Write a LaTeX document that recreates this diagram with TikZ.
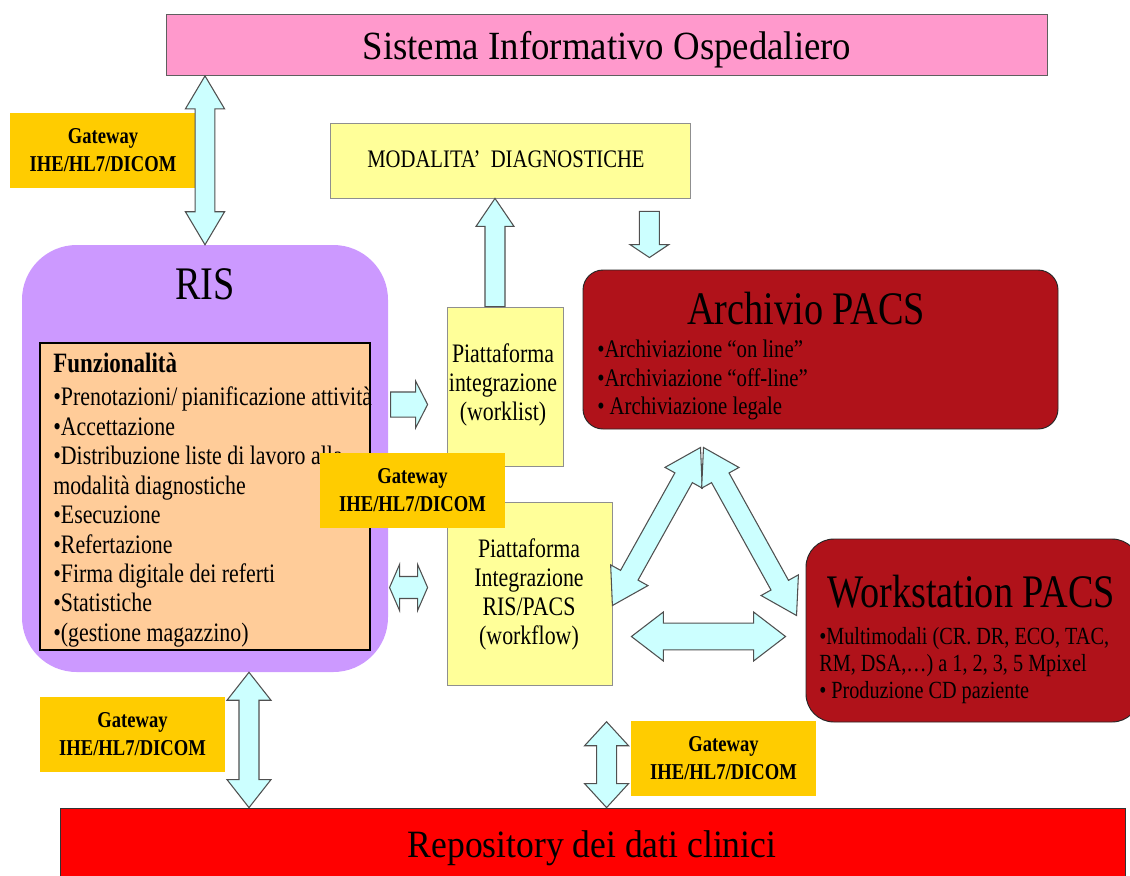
\documentclass[tikz,border=0pt]{standalone}
\usepackage{fontspec}
\setmainfont{Liberation Serif}
\newfontfamily\narrowserif[FakeStretch=0.82]{Liberation Serif}
\newfontfamily\titleserif[FakeStretch=0.92]{Liberation Serif}
\usetikzlibrary{calc}
\definecolor{sioPink}{RGB}{255,153,204}
\definecolor{gwOrange}{RGB}{255,204,0}
\definecolor{modaYellow}{RGB}{255,255,153}
\definecolor{risViolet}{RGB}{204,153,255}
\definecolor{funzPeach}{RGB}{255,204,153}
\definecolor{pacsRed}{RGB}{176,18,26}
\definecolor{repoRed}{RGB}{255,0,0}
\definecolor{arrowFill}{RGB}{204,255,255}
\definecolor{arrowLine}{RGB}{80,80,80}
\definecolor{boxLine}{RGB}{95,95,95}
\newcommand\twowayarrow[5]{%
\draw[fatarrow] (#1)
  -- ($(#1)!#5!(#2)!#4!90:(#2)$) -- ($(#1)!#5!(#2)!#3!90:(#2)$)
  -- ($(#2)!#5!(#1)!#3!-90:(#1)$) -- ($(#2)!#5!(#1)!#4!-90:(#1)$)
  -- (#2)
  -- ($(#2)!#5!(#1)!#4!90:(#1)$) -- ($(#2)!#5!(#1)!#3!90:(#1)$)
  -- ($(#1)!#5!(#2)!#3!-90:(#2)$) -- ($(#1)!#5!(#2)!#4!-90:(#2)$) -- cycle;}
\newcommand\onewayarrow[5]{%
\draw[fatarrow] ($(#1)!#3!90:(#2)$)
  -- ($(#2)!#5!(#1)!#3!-90:(#1)$) -- ($(#2)!#5!(#1)!#4!-90:(#1)$)
  -- (#2)
  -- ($(#2)!#5!(#1)!#4!90:(#1)$) -- ($(#2)!#5!(#1)!#3!90:(#1)$)
  -- ($(#1)!#3!-90:(#2)$) -- cycle;}
\begin{document}
\begin{tikzpicture}[x=0.75pt,y=-0.75pt,
  box/.style={draw=boxLine,line width=0.6pt,inner sep=0pt},
  gateway/.style={fill=gwOrange,minimum width=139pt,minimum height=56.25pt,inner sep=0pt,align=center,font=\narrowserif\bfseries\fontsize{17}{21}\selectfont},
  pacsbox/.style={draw=black!85,line width=0.7pt,fill=pacsRed,inner sep=0pt},
  fatarrow/.style={fill=arrowFill,draw=arrowLine,line width=0.8pt,line join=miter},
  bigtitle/.style={inner sep=0pt,font=\narrowserif\fontsize{35}{40}\selectfont},
  platetext/.style={inner sep=0pt,align=center,font=\narrowserif\fontsize{20}{21.75}\selectfont}]
\path[use as bounding box,clip] (0,0) rectangle (1130,875);
\node[box,fill=sioPink,minimum width=660.75pt,minimum height=45.75pt] (sio) at (606.5,45) {};
\node[anchor=base,inner sep=0pt,font=\titleserif\fontsize{30}{34}\selectfont] (siotext) at (607,59) {Sistema Informativo Ospedaliero};
\node[gateway] (gw1) at (103,150.5) {Gateway\\IHE/HL7/DICOM};
\node[box,draw=boxLine!70,fill=modaYellow,minimum width=270pt,minimum height=56.25pt] (moda) at (510,160.5) {};
\node[anchor=base,inner sep=0pt,font=\narrowserif\fontsize{18.9}{22}\selectfont] (modatext) at (506,167) {MODALITA’\ \ DIAGNOSTICHE};
\node[fill=risViolet,rounded corners=41pt,minimum width=274.5pt,minimum height=320.25pt] (ris) at (205,458.5) {};
\node[bigtitle] (ristitle) at (205,284) {RIS};
\node[draw=black,line width=0.8pt,fill=funzPeach,minimum width=247.5pt,minimum height=230.25pt] (funz) at (205,496.5) {};
\node[anchor=north west,inner sep=0pt,align=left,font=\narrowserif\fontsize{20}{22.1}\selectfont] (funztext) at (53,353)
  {{\bfseries\fontsize{21}{22.1}\selectfont Funzionalità}\\[2.6pt]
   •Prenotazioni/\,pianificazione attività\\
   •Accettazione\\
   •Distribuzione liste di lavoro alla\\
   modalità diagnostiche\\
   •Esecuzione\\
   •Refertazione\\
   •Firma digitale dei referti\\
   •Statistiche\\
   •(gestione magazzino)};
\node[box,draw=boxLine!70,fill=modaYellow,minimum width=87pt,minimum height=119.25pt] (wl) at (505,386.5) {};
\node[platetext] (wltext) at (503,385) {Piattaforma\\integrazione\\(worklist)};
\node[box,draw=boxLine!70,fill=modaYellow,minimum width=123.75pt,minimum height=137.25pt] (wf) at (529.5,593.5) {};
\node[platetext] (wftext) at (529,594) {Piattaforma\\Integrazione\\RIS/PACS\\(workflow)};
\node[gateway] (gw2) at (412.5,490) {Gateway\\IHE/HL7/DICOM};
\node[pacsbox,rounded corners=15pt,minimum width=356.25pt,minimum height=119.25pt] (arch) at (820.5,349.5) {};
\node[bigtitle] (archtitle) at (806,309) {Archivio PACS};
\node[anchor=north west,inner sep=0pt,align=left,font=\narrowserif\fontsize{19}{21.4}\selectfont] (archtext) at (597,340)
  {•Archiviazione “on line”\\•Archiviazione “off-line”\\•\ Archiviazione legale};
\node[pacsbox,rounded corners=21pt,minimum width=250.5pt,minimum height=137.25pt] (ws) at (973,630.5) {};
\node[bigtitle] (wstitle) at (971,592) {Workstation PACS};
\node[anchor=north west,inner sep=0pt,align=left,font=\narrowserif\fontsize{18.5}{20.25}\selectfont] (wstext) at (819,627)
  {•Multimodali (CR. DR, ECO, TAC,\\RM, DSA,…) a 1, 2, 3, 5 Mpixel\\•\ Produzione CD paziente};
\node[gateway] (gw3) at (132.5,734.5) {Gateway\\IHE/HL7/DICOM};
\node[gateway] (gw4) at (723.5,758.5) {Gateway\\IHE/HL7/DICOM};
\node[box,draw=black!80,fill=repoRed,minimum width=798.75pt,minimum height=65.25pt] (repo) at (592.5,851.5) {};
\node[anchor=base,inner sep=0pt,font=\titleserif\fontsize{29}{33}\selectfont] (repotext) at (592,857) {Repository dei dati clinici};
\coordinate (a1s) at (sio.south -| ris.north);
\twowayarrow{a1s}{ris.north}{7.35pt}{14.7pt}{24.75pt}
\coordinate (a2s) at ($(wl.north)+(-10,0)$);
\coordinate (a2e) at (moda.south -| a2s);
\onewayarrow{a2s}{a2e}{7.5pt}{14.25pt}{21pt}
\coordinate (a3s) at ($(moda.south east)+(-41,13)$);
\coordinate (a3e) at ($(arch.north -| a3s)+(0,-12)$);
\onewayarrow{a3s}{a3e}{7.5pt}{14.6pt}{9.75pt}
\coordinate (a4e) at ($(wl.west)+(-19,18)$);
\coordinate (a4s) at ($(funz.east |- a4e)+(20,0)$);
\onewayarrow{a4s}{a4e}{9.4pt}{17.6pt}{9pt}
\coordinate (a5e) at ($(wf.west)+(-19,-6)$);
\coordinate (a5s) at ($(funz.east |- a5e)+(19,0)$);
\twowayarrow{a5s}{a5e}{8.25pt}{17.25pt}{7.5pt}
\coordinate (a6s) at ($(wf.east)+(0,12)$);
\coordinate (a6e) at ($(arch.south)+(-120,18)$);
\twowayarrow{a6s}{a6e}{7.5pt}{16pt}{26pt}
\coordinate (a7s) at ($(arch.south)+(-117,18)$);
\coordinate (a7e) at ($(ws.west)+(-9,-15)$);
\twowayarrow{a7s}{a7e}{7.5pt}{16pt}{26pt}
\coordinate (a8s) at ($(wf.east)+(19,43)$);
\coordinate (a8e) at ($(ws.west)+(-20,6)$);
\twowayarrow{a8s}{a8e}{10pt}{18.4pt}{24pt}
\coordinate (a9s) at ($(ris.south)+(44,0)$);
\coordinate (a9e) at (repo.north -| a9s);
\twowayarrow{a9s}{a9e}{7.5pt}{16.5pt}{21pt}
\coordinate (a10s) at ($(gw4.north west)+(-24,1)$);
\coordinate (a10e) at (repo.north -| a10s);
\twowayarrow{a10s}{a10e}{7.5pt}{16.5pt}{18pt}
\end{tikzpicture}
\end{document}
